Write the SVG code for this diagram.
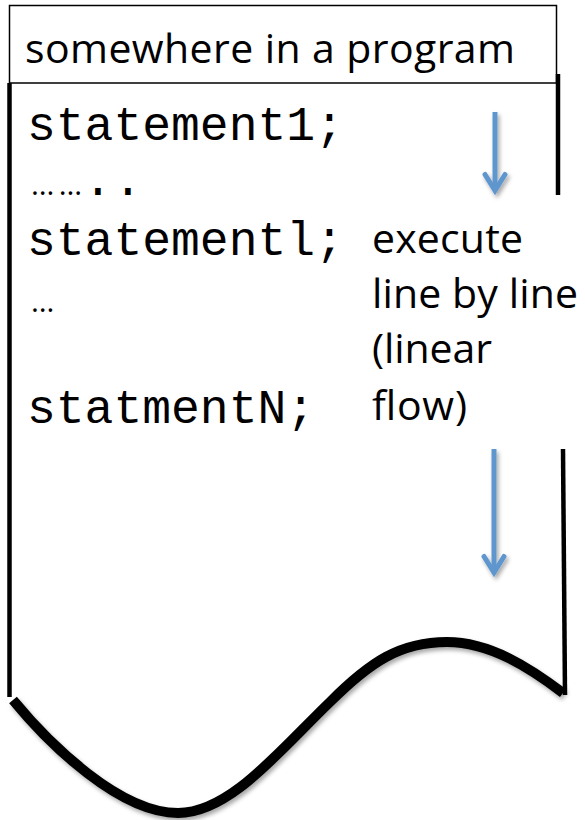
<svg xmlns="http://www.w3.org/2000/svg" width="585" height="820" viewBox="0 0 585 820">
  <style>
    .sans { font-family: "Open Sans", "Noto Sans", "Liberation Sans", sans-serif; fill: #000; }
    .mono { font-family: "Liberation Mono", "DejaVu Sans Mono", monospace; font-size: 48px; fill: #000; }
    .edge { stroke: #000; stroke-width: 4.5; fill: none; }
    .flow { stroke: #5F96CD; stroke-width: 5; fill: none; }
  </style>
  <defs>
    <filter id="shadow" filterUnits="userSpaceOnUse" x="0" y="0" width="585" height="820">
      <feDropShadow dx="2" dy="3" stdDeviation="2" flood-color="#000" flood-opacity="0.35"/>
    </filter>
    <marker id="head" markerUnits="userSpaceOnUse" viewBox="-22 -15 30 30" markerWidth="30" markerHeight="30" refX="0" refY="0" orient="auto" overflow="visible">
      <path d="M-16,-10 L0,0 L-16,10" fill="none" stroke="#5F96CD" stroke-width="5" stroke-linejoin="miter" stroke-linecap="round"/>
    </marker>
  </defs>
  <rect width="585" height="820" fill="#fff"/>

  <g id="header">
    <rect x="9.5" y="5.5" width="547" height="77.5" fill="#fff" stroke="#000" stroke-width="1.5"/>
    <text class="sans" x="25" y="63" font-size="41" textLength="490">somewhere in a program</text>
  </g>

  <g id="page">
    <line class="edge" x1="9.5" y1="83" x2="9.5" y2="697"/>
    <line class="edge" x1="558" y1="74" x2="558" y2="195"/>
    <line class="edge" x1="563" y1="449" x2="565" y2="695"/>
    <path d="M 13 700 C 50 745, 120 813, 178 813 C 230 813, 280 750, 330 702 C 370 662, 400 642, 447 642 C 490 642, 530 668, 563 693" fill="none" stroke="#000" stroke-width="10" filter="url(#shadow)"/>
  </g>

  <g id="code">
    <text class="mono" x="27" y="140">statement1;</text>
    <text x="31" y="195"><tspan class="sans" font-size="30" textLength="51">……</tspan><tspan class="mono" x="83.6" word-spacing="-27.6">. .</tspan></text>
    <text class="mono" x="27" y="255">statementl;</text>
    <text class="sans" x="31" y="312" font-size="30" textLength="22">…</text>
    <text class="mono" x="27" y="423">statmentN;</text>
  </g>

  <g id="note">
    <text class="sans" x="372" y="253" font-size="41" textLength="151">execute</text>
    <text class="sans" x="372" y="308" font-size="41" textLength="206">line by line</text>
    <text class="sans" x="372" y="363" font-size="41" textLength="120">(linear</text>
    <text class="sans" x="372" y="420" font-size="41" textLength="95">flow)</text>
  </g>

  <g id="connectors" filter="url(#shadow)">
    <line class="flow" x1="495" y1="112" x2="495" y2="190.5" marker-end="url(#head)"/>
    <line class="flow" x1="494" y1="449" x2="494" y2="572.5" marker-end="url(#head)"/>
  </g>
</svg>
